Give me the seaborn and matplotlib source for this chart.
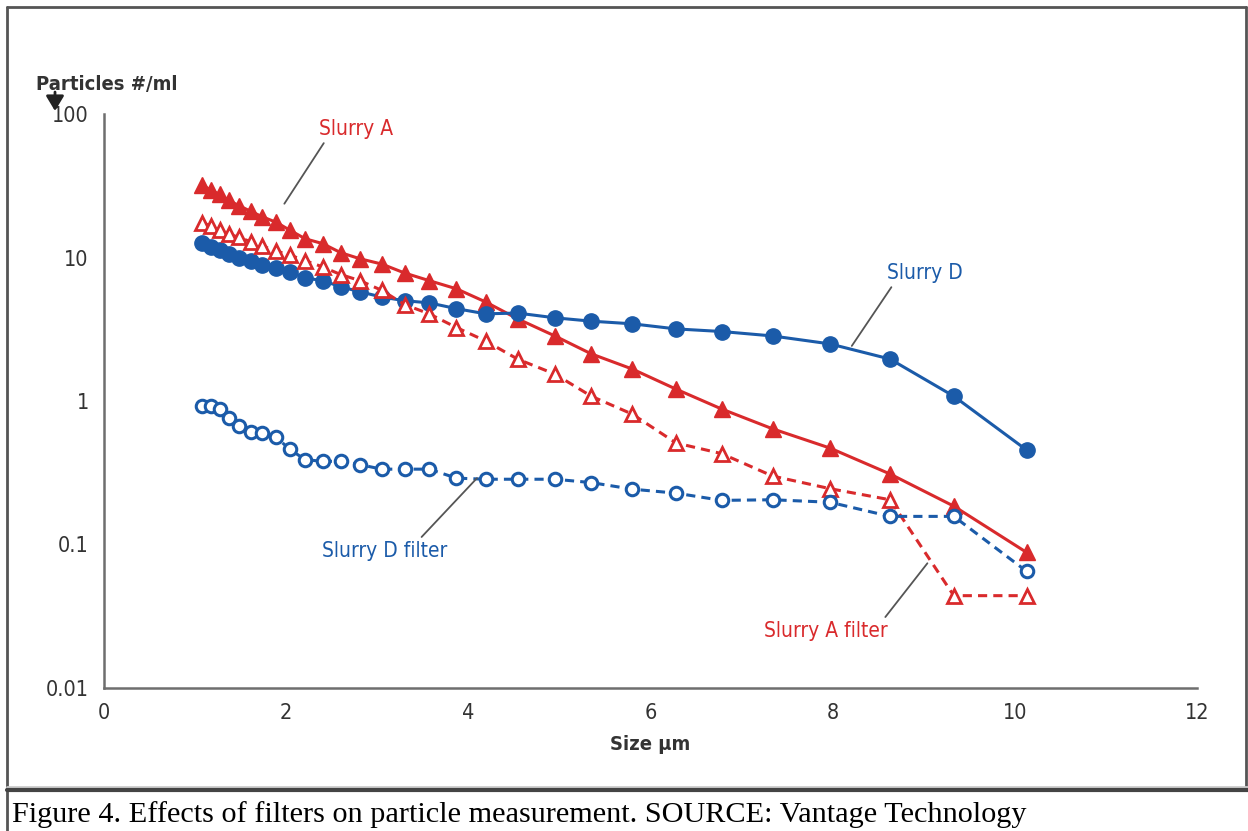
import matplotlib
matplotlib.use('Agg')
import matplotlib.pyplot as plt
import seaborn as sns
from matplotlib.lines import Line2D
from matplotlib.patches import FancyArrowPatch
from matplotlib.ticker import FixedLocator, FixedFormatter, NullLocator

# particle size (um), shared by all four series
size_um = [1.08, 1.17, 1.27, 1.37, 1.48, 1.61, 1.74, 1.89, 2.04, 2.21, 2.40, 2.60,
           2.81, 3.05, 3.30, 3.57, 3.87, 4.19, 4.54, 4.95, 5.35, 5.80, 6.28, 6.78,
           7.34, 7.97, 8.63, 9.33, 10.13]

slurry_a = [32.0, 29.5, 27.5, 25.0, 23.0, 21.0, 19.2, 17.6, 15.5, 13.5, 12.5, 10.8,
            9.8, 9.0, 7.8, 6.9, 6.05, 4.9, 3.74, 2.84, 2.13, 1.67, 1.21, 0.88,
            0.64, 0.47, 0.31, 0.185, 0.088]

slurry_a_filter = [17.5, 16.6, 15.6, 14.6, 13.8, 12.9, 12.0, 11.1, 10.4, 9.5, 8.6, 7.6,
                   6.9, 5.9, 4.7, 4.05, 3.25, 2.62, 1.96, 1.54, 1.08, 0.81, 0.51, 0.43,
                   0.30, 0.245, 0.205, 0.044, 0.044]

slurry_d = [12.7, 11.9, 11.2, 10.6, 9.9, 9.5, 8.9, 8.5, 7.95, 7.2, 6.9, 6.25,
            5.77, 5.3, 5.0, 4.83, 4.4, 4.05, 4.1, 3.8, 3.6, 3.45, 3.18, 3.05,
            2.84, 2.5, 1.96, 1.08, 0.455]

slurry_d_filter = [0.93, 0.93, 0.88, 0.76, 0.67, 0.61, 0.60, 0.56, 0.46, 0.39, 0.38, 0.38,
                   0.36, 0.335, 0.335, 0.335, 0.29, 0.285, 0.285, 0.285, 0.27, 0.243, 0.228, 0.203,
                   0.205, 0.197, 0.157, 0.157, 0.065]

y_ticks = [0.01, 0.1, 1, 10, 100]
y_tick_labels = ['0.01', '0.1', '1', '10', '100']
x_ticks = [0, 2, 4, 6, 8, 10, 12]

RED = '#d92a2c'
BLUE = '#1b5ba9'
GREY = '#6e6e6e'

sns.set_style('white')
plt.rcParams['font.family'] = ['DejaVu Sans']
plt.rcParams['font.stretch'] = 'condensed'

W, H = 1248, 831
fig = plt.figure(figsize=(W / 100, H / 100), dpi=100)
ax = fig.add_axes([104 / W, 1 - 688 / H, (1197 - 104) / W, (688 - 114) / H])

# solid series
sns.lineplot(x=size_um, y=slurry_a, ax=ax, color=RED, lw=2.2, marker='^',
             markersize=11, markerfacecolor=RED, markeredgecolor=RED, markeredgewidth=1)
sns.lineplot(x=size_um, y=slurry_d, ax=ax, color=BLUE, lw=2.2, marker='o',
             markersize=11, markerfacecolor=BLUE, markeredgecolor=BLUE, markeredgewidth=1)
# filtered series
sns.lineplot(x=size_um, y=slurry_a_filter, ax=ax, color=RED, lw=2.2, linestyle=(0, (3, 2)),
             marker='^', markersize=10, markerfacecolor='white', markeredgecolor=RED,
             markeredgewidth=2)
sns.lineplot(x=size_um, y=slurry_d_filter, ax=ax, color=BLUE, lw=2.2, linestyle=(0, (3, 2)),
             marker='o', markersize=9, markerfacecolor='white', markeredgecolor=BLUE,
             markeredgewidth=2.2)

ax.set_yscale('log')
ax.set_xlim(0, 12)
ax.set_ylim(0.01, 100)
ax.yaxis.set_major_locator(FixedLocator(y_ticks))
ax.yaxis.set_major_formatter(FixedFormatter(y_tick_labels))
ax.yaxis.set_minor_locator(NullLocator())
ax.set_xticks(x_ticks)

for side in ['top', 'right']:
    ax.spines[side].set_visible(False)
for side in ['left', 'bottom']:
    ax.spines[side].set_color(GREY)
    ax.spines[side].set_linewidth(1.8)
ax.tick_params(axis='both', direction='in', length=10, width=1.8, color=GREY,
               labelsize=15.5, labelcolor='#333333')
ax.tick_params(axis='y', pad=11)
ax.tick_params(axis='x', pad=11)
ax.set_xlabel('')
ax.set_ylabel('')

# series labels with leader lines
lead = dict(arrowstyle='-', color='#555555', lw=1.3, shrinkA=1, shrinkB=0)
ax.annotate('Slurry A', xy=(1.98, 23.7), xytext=(2.77, 79), color=RED, fontsize=15,
            ha='center', va='center', arrowprops=dict(lead, relpos=(0.1, 0)))
ax.annotate('Slurry D', xy=(8.21, 2.42), xytext=(9.01, 7.83), color=BLUE, fontsize=15,
            ha='center', va='center', arrowprops=dict(lead, relpos=(0.1, 0)))
ax.annotate('Slurry D filter', xy=(4.095, 0.29), xytext=(3.085, 0.0897), color=BLUE,
            fontsize=15, ha='center', va='center', arrowprops=dict(lead, relpos=(0.76, 1)))
ax.annotate('Slurry A filter', xy=(9.04, 0.074), xytext=(7.93, 0.0248), color=RED,
            fontsize=15, ha='center', va='center', arrowprops=dict(lead, relpos=(0.95, 1)))

# axis titles
fig.text(36 / W, 1 - 84 / H, 'Particles #/ml', fontsize=14.5, fontweight='bold',
         color='#333333', ha='left', va='center')
fig.add_artist(FancyArrowPatch(
    (55, H - 92), (55, H - 111), transform=None,
    arrowstyle='-|>,head_length=0.5,head_width=0.3', color='#222222', lw=2,
    mutation_scale=18, shrinkA=0, shrinkB=0))
fig.text(650 / W, 1 - 745 / H, 'Size µm', fontsize=14.5, fontweight='bold',
         color='#333333', ha='center', va='center')

# frame and caption
frame = dict(color='#555555', lw=2, transform=fig.transFigure)
fig.add_artist(Line2D([7 / W, 7 / W], [0, 1 - 7 / H], **frame))
fig.add_artist(Line2D([7 / W, 1 - 2 / W], [1 - 7 / H, 1 - 7 / H], **frame))
fig.add_artist(Line2D([1 - 2 / W, 1 - 2 / W], [1 - 7 / H, 1 - 789 / H], **frame))
fig.add_artist(Line2D([7 / W, 1], [1 - 787 / H, 1 - 787 / H], color='#cccccc', lw=2,
                      transform=fig.transFigure))
fig.add_artist(Line2D([7 / W, 1], [1 - 790 / H, 1 - 790 / H], color='#444444', lw=3,
                      transform=fig.transFigure))
fig.text(12 / W, 1 - 822 / H,
         'Figure 4. Effects of filters on particle measurement. SOURCE: Vantage Technology',
         fontsize=21.8, family=['Liberation Serif', 'DejaVu Serif'], color='black',
         ha='left', va='baseline')

fig.savefig('out.png', dpi=100)
